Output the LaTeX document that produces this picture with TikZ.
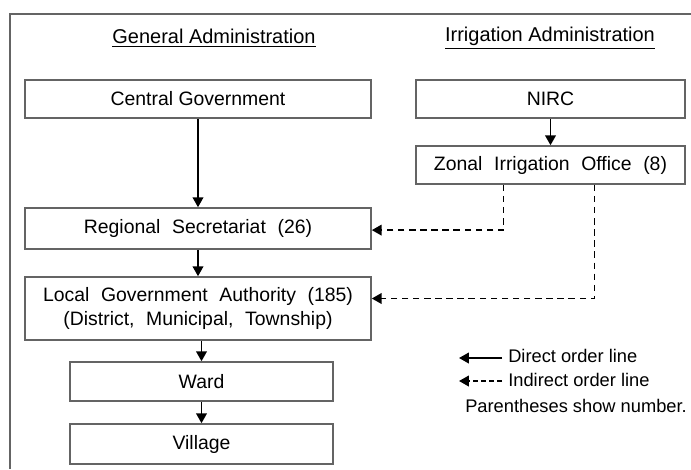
\documentclass[tikz,border=0pt]{standalone}
\usepackage{fontspec}
\setmainfont{Liberation Sans}
\usepackage{tikz}
\usetikzlibrary{arrows.meta, positioning, calc}
\definecolor{boxgray}{RGB}{100,100,100}

\begin{document}
\begin{tikzpicture}[x=0.025cm, y=-0.025cm,
  font=\fontsize{13.8}{17.5}\selectfont,
  unit/.style={rectangle, draw=boxgray, line width=1.1pt, align=center, inner sep=0pt},
  wide/.style={execute at begin node={\spaceskip=0.6em\relax}},
  heading/.style={font=\fontsize{14.2}{17}\selectfont},
  legend/.style={anchor=west, inner sep=0pt, font=\fontsize{13}{16}\selectfont},
  arrow/.style={-{Triangle[length=7pt, width=7.5pt]}, line width=1.4pt, draw=black},
  indirect/.style={arrow, dash pattern=on 4.6pt off 3.3pt}
]
\useasboundingbox (0,0) rectangle (691,469);
\draw[boxgray, line width=1.1pt] (691,14) -- (10,14) -- (10,469);
% headings
\node[heading] (gen) at (214,38) {\underline{General Administration}};
\node[heading] (irr) at (550,38) {\underline{Irrigation Administration}};
% general administration
\node[unit, minimum width=346*0.025cm, minimum height=38*0.025cm] (central) at (198,99) {Central Government};
\node[unit, wide, minimum width=346*0.025cm, minimum height=41*0.025cm] (regional) at (198,228.5) {Regional Secretariat (26)};
\node[unit, wide, minimum width=346*0.025cm, minimum height=63*0.025cm] (lga) at (198,308.5) {Local Government Authority (185)\\(District, Municipal, Township)};
\node[unit, minimum width=263*0.025cm, minimum height=39*0.025cm] (ward) at (201.5,381.5) {Ward};
\node[unit, minimum width=263*0.025cm, minimum height=40*0.025cm] (village) at (201.5,444) {Village};
% irrigation administration
\node[unit, minimum width=269*0.025cm, minimum height=38*0.025cm] (nirc) at (550.5,99) {NIRC};
\node[unit, wide, minimum width=269*0.025cm, minimum height=38*0.025cm] (zonal) at (550.5,165) {Zonal Irrigation Office (8)};
\draw[arrow] (central) -- (regional);
\draw[arrow] (regional) -- (lga);
\draw[arrow] (lga.south -| ward) -- (ward);
\draw[arrow] (ward) -- (village);
\draw[arrow] (nirc) -- (zonal);
\draw[indirect] ([xshift=-47*0.025cm]zonal.south) |- ([yshift=-0.04cm]regional.east);
\draw[indirect] ([xshift=44*0.025cm]zonal.south) |- ([yshift=0.25cm]lga.east);
% legend
\coordinate (d1) at (502,358);
\coordinate (d2) at (459,358);
\coordinate (i1) at (502,381);
\coordinate (i2) at (459,381);
\draw[arrow] (d1) -- (d2);
\draw[indirect, dash pattern=on 3.4pt off 2.3pt] (i1) -- (i2);
\node[legend] (direct) at (508,356) {Direct order line};
\node[legend] (indir) at (508,380) {Indirect order line};
\node[legend] (paren) at (465,406) {Parentheses show number.};
\end{tikzpicture}
\end{document}
